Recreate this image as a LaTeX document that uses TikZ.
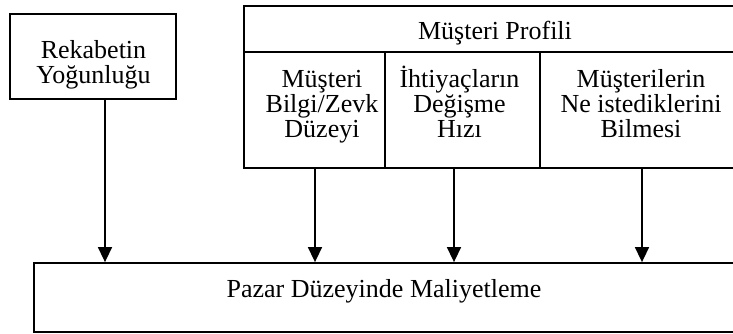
\documentclass[tikz,border=0pt]{standalone}
\usepackage{fontspec}
\setmainfont{Liberation Serif}
\usetikzlibrary{arrows.meta}
\begin{document}
\begin{tikzpicture}[x=1pt,y=-1pt,
  box/.style={draw, line width=1.8pt, rectangle, inner sep=0pt},
  txt/.style={inner sep=0pt, align=center, font=\fontsize{26}{25}\selectfont, anchor=base},
  arr/.style={line width=1.5pt, -{Triangle[length=15pt,width=14pt]}}]
\path[use as bounding box, clip] (0,0) rectangle (733,333);
\fill[white] (0,0) rectangle (733,333);
% frames
\node[box, minimum width=166pt, minimum height=85pt] (rek) at (93,56.5) {};
\node[box, minimum width=501pt, minimum height=46pt] (head) at (494.5,29) {};
\node[box, minimum width=141pt, minimum height=116pt] (c1) at (314.5,110) {};
\node[box, minimum width=155pt, minimum height=116pt] (c2) at (462.5,110) {};
\node[box, minimum width=205pt, minimum height=116pt] (c3) at (642.5,110) {};
\node[box, minimum width=711pt, minimum height=69pt] (cost) at (389.5,297.5) {};
% labels (anchored at the baseline of their last line)
\node[txt] (trek) at (93.5,83.3) {Rekabetin\\Yoğunluğu};
\node[txt] (thead) at (495,39) {Müşteri Profili};
\node[txt] (tc1) at (322,137) {Müşteri\\Bilgi/Zevk\\Düzeyi};
\node[txt] (tc2) at (459.5,137) {İhtiyaçların\\Değişme\\Hızı};
\node[txt] (tc3) at (641,137) {Müşterilerin\\Ne istediklerini\\Bilmesi};
\node[txt] (tcost) at (384,297) {Pazar Düzeyinde Maliyetleme};
% connectors
\coordinate (a1) at (105,0);
\coordinate (a2) at (315,0);
\coordinate (a3) at (454,0);
\coordinate (a4) at (642,0);
\draw[arr] (rek.south -| a1) -- (cost.north -| a1);
\draw[arr] (c1.south -| a2) -- (cost.north -| a2);
\draw[arr] (c2.south -| a3) -- (cost.north -| a3);
\draw[arr] (c3.south -| a4) -- (cost.north -| a4);
\end{tikzpicture}
\end{document}
